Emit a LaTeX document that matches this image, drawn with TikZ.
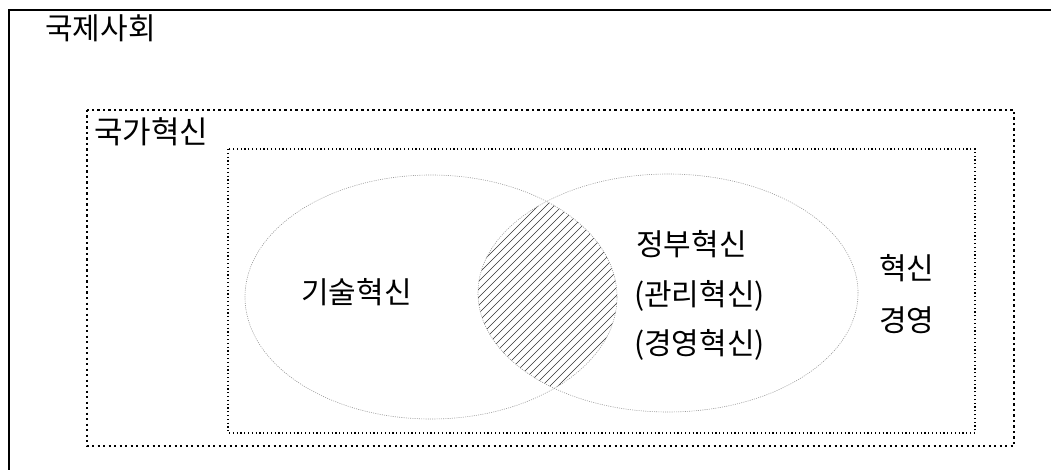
\documentclass[tikz,border=0pt]{standalone}
\usepackage{fontspec}
\newfontfamily\kr{Noto Sans CJK KR}
\begin{document}
\begin{tikzpicture}[x=1pt,y=-1pt,
  lbl/.style={font=\kr\fontsize{30}{34}\selectfont, inner sep=0pt, anchor=west},
  frameline/.style={line width=1.8pt, black},
  natbox/.style={line width=2.2pt, dash pattern=on 2.2pt off 3.3pt},
  innerbox/.style={line width=1.2pt, dash pattern=on 1.2pt off 2.6pt},
  venn/.style={draw=gray!80, line width=0.6pt, dash pattern=on 1pt off 1.2pt},
  hatch/.style={line width=0.6pt, black!80}]
\useasboundingbox (0,0) rectangle (1051,470);
% outer frame (left and top)
\draw[frameline] (9,470) -- (9,10) -- (1051,10);
% national innovation dotted box
\draw[natbox] (87,110) rectangle (1014,446);
% inner dotted box
\draw[innerbox] (228,149) rectangle (975,433);
% hatching of the intersection
\begin{scope}
  \clip (431,297) ellipse [x radius=186pt, y radius=122pt];
  \clip (668,293) ellipse [x radius=190pt, y radius=119pt];
  \foreach \i in {0,8,...,440} {
    \draw[hatch] (180+\i,460) -- (180+\i+300,160);
  }
\end{scope}
% ellipses
\draw[venn] (431,297) ellipse [x radius=186pt, y radius=122pt];
\draw[venn] (668,293) ellipse [x radius=190pt, y radius=119pt];
% labels
\node[lbl] (intl) at (45,28) {국제사회};
\node[lbl, font=\kr\fontsize{31}{34}\selectfont] (nat) at (94,132) {국가혁신};
\node[lbl] (tech) at (301,292) {기술혁신};
\node[lbl] (gov1) at (636,244) {정부혁신};
\node[lbl] (gov2) at (634,296) {(관리혁신)};
\node[lbl] (gov3) at (634,345) {(경영혁신)};
\node[lbl] (mg1) at (879,268) {혁신};
\node[lbl] (mg2) at (879,320) {경영};
\end{tikzpicture}
\end{document}
